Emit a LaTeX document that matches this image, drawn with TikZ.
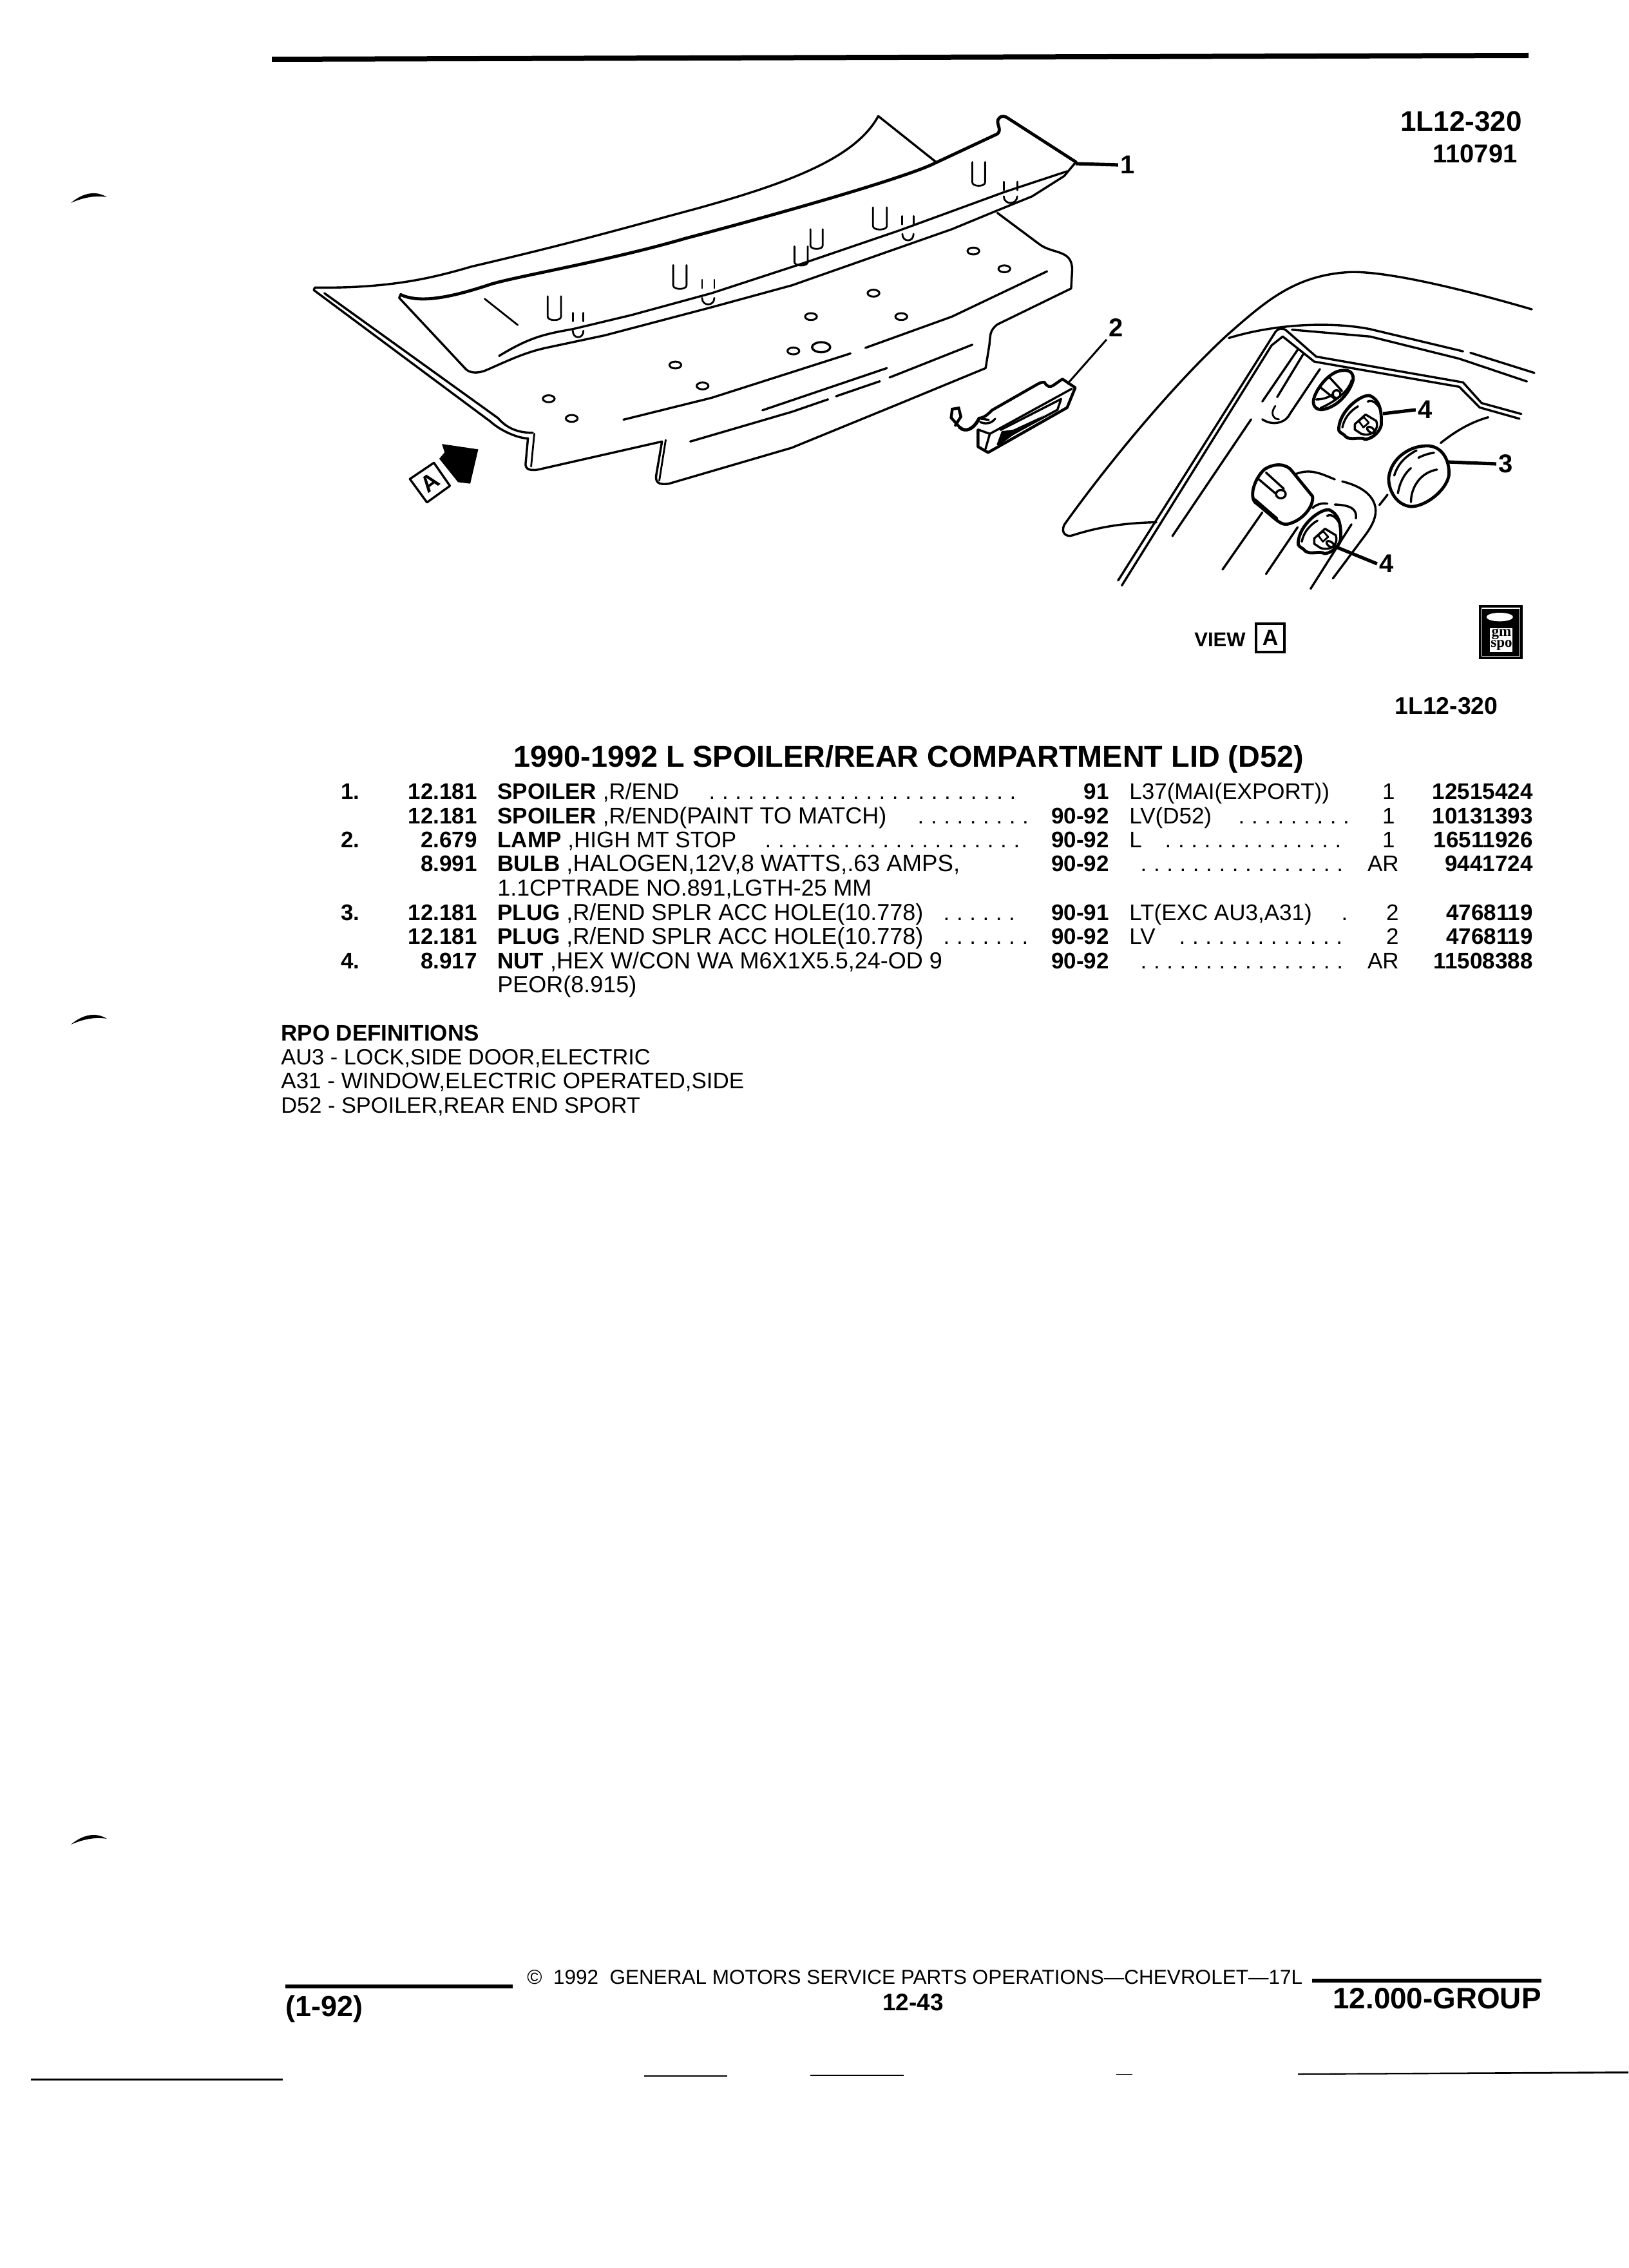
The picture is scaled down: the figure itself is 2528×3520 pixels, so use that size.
\documentclass[tikz,border=0pt]{standalone}
\usepackage{fontspec}
\setmainfont{Liberation Sans}
\newfontfamily\logofont{Liberation Serif}
\newcommand{\Dots}[1]{\foreach \i in {1,...,#1}{\hbox to 10.15pt{\hss.\hss}}}
\newcommand{\wide}{\fontsize{18}{20}\selectfont}
\tikzset{
  ln/.style={line width=1.7pt,line join=round,line cap=round},
  thk/.style={line width=2.4pt,line join=round,line cap=round},
  thn/.style={line width=1.4pt,line join=round,line cap=round},
  lead/.style={line width=2.6pt,line cap=butt},
  leadthin/.style={line width=1.5pt},
  tl/.style={anchor=base west,inner sep=0pt,font={\fontsize{17.5}{20}\selectfont}},
  tr/.style={anchor=base east,inner sep=0pt,font={\fontsize{17.5}{20}\selectfont\bfseries}},
  tq/.style={anchor=base east,inner sep=0pt,font={\fontsize{17.5}{20}\selectfont}},
  dt/.style={anchor=base west,inner sep=0pt,font={\fontsize{17.5}{20}\selectfont}},
  call/.style={inner sep=0pt,outer sep=2pt,font={\fontsize{20}{22}\selectfont\bfseries}},
  hole/.style={line width=1.5pt}
}
\begin{document}
\begin{tikzpicture}[x=0.5pt,y=-0.5pt]
\useasboundingbox (0,0) rectangle (2528,3520);
\fill[white] (0,0) rectangle (2528,3520);

% top rule
\fill (422,88) -- (2373,82) -- (2373,90) -- (422,96) -- cycle;

% spoiler drawing (coordinates of the enlarged view)
\begin{scope}[shift={(400,60)},xscale=0.8292,yscale=0.4847]
\draw[ln] (107,797) .. controls (250,800) and (330,765) .. (400,730) .. controls (600,650) and (700,600) .. (820,545) .. controls (1000,460) and (1120,380) .. (1162,248) -- (1270,395);
\draw[thk] (268,820) .. controls (300,845) and (350,835) .. (430,790) .. controls (470,765) and (650,715) .. (800,640) .. controls (1000,550) and (1200,450) .. (1260,405) -- (1385,305) .. controls (1395,290) and (1380,270) .. (1388,255) .. controls (1392,245) and (1400,248) .. (1405,255) -- (1532,395);
\draw[ln] (1532,395) -- (1510,440) -- (1450,505) -- (1385,550) -- (1300,610) -- (1100,730) -- (1000,790) -- (850,860) -- (650,950) -- (540,990) .. controls (500,1005) and (470,1030) .. (430,1060) .. controls (410,1075) and (395,1070) .. (388,1055) -- (265,830) -- (268,818);
\draw[ln] (452,1016) .. controls (510,955) and (540,945) .. (590,930) -- (700,885) -- (850,815) -- (1020,720) -- (1200,615) -- (1400,490) -- (1515,425);
\draw[ln] (1385,558) -- (1465,660) .. controls (1490,690) and (1525,675) .. (1525,740) -- (1523,800) -- (1385,915) .. controls (1370,935) and (1372,950) .. (1370,980) -- (1363,1055) -- (1200,1170) -- (1000,1310) -- (770,1425) .. controls (750,1430) and (745,1420) .. (746,1400) -- (757,1290) -- (525,1380) .. controls (505,1385) and (500,1375) .. (502,1355) -- (506,1280) .. controls (490,1280) and (458,1260) .. (435,1225) -- (105,805) -- (107,797);
\draw[ln] (125,815) -- (450,1215) .. controls (470,1255) and (495,1262) .. (515,1262);
\draw[thn] (518,1265) -- (512,1370);
\draw[thn] (764,1285) -- (752,1415);
\draw[thn] (425,833) -- (487,917);
% slots
\foreach \a/\b/\c/\d in {543/825/568/890,778/725/803/790,1005/665/1030/715,1035/610/1058/662,1152/540/1178/600,1338/395/1362/460}{
  \draw[thn] (\a,\b) -- (\a,\d) .. controls (\a,\d+15) and (\c,\d+15) .. (\c,\d) -- (\c,\b);
}
% small ticks and hooks
\foreach \a/\b/\c/\d in {590/610/878/935,832/855/772/830,1207/1228/568/625,1397/1422/458/505}{
  \draw[thn] (\a,\c) -- (\a,\c+27) (\b,\c) -- (\b,\c+27);
  \draw[thn] (\a,\d) .. controls (\a,\d+28) and (\b,\d+28) .. (\b,\d);
}
% holes
\foreach \a/\b in {1340/680,1398/737,1153/815,1036/890,1205/890,1003/1000,782/1045,833/1112,545/1153,588/1216}{
  \draw[hole] (\a,\b) ellipse (11 and 11);
}
\draw[ln] (1055,988) ellipse (17 and 16);
% body lines
\draw[ln] (685,1220) -- (850,1150) -- (1110,1008);
\draw[ln] (1138,990) -- (1300,890) -- (1478,745);
\draw[ln] (810,1290) -- (1000,1195) -- (1068,1155);
\draw[ln] (945,1190) -- (1178,1055);
\draw[ln] (1083,1145) -- (1165,1097);
\draw[ln] (1183,1085) -- (1338,980);
% view arrow and tag
\fill (345,1298) -- (413,1315) -- (398,1425) -- (375,1420) -- (340,1345) -- (350,1325) -- cycle;
\draw[ln] (330,1358) -- (360,1432) -- (317,1485) -- (285,1410) -- cycle;
\end{scope}
\node[inner sep=0pt,rotate=37,font={\fontsize{18}{18}\selectfont\bfseries}] (tagA) at (667,749) {A};

% lamp
\begin{scope}[shift={(1440,560)},scale=0.3333]
\draw[line width=2.2pt,line join=round] (235,320) -- (235,400) -- (282,427) -- (650,218) -- (688,125) -- (628,85) -- (585,115) .. controls (570,125) and (555,120) .. (545,100) .. controls (530,98) and (520,105) .. (510,110) -- (300,230) .. controls (285,245) and (270,262) .. (240,268);
\draw[ln] (235,320) -- (290,340) -- (270,410);
\draw[ln] (290,340) -- (672,130);
\draw[ln] (340,322) -- (622,178) -- (605,228) -- (380,350);
\fill (322,390) -- (345,328) -- (400,320) -- (540,255) -- (400,345) -- (330,396) -- cycle;
\draw[line width=2.6pt,line cap=round] (240,268) .. controls (215,320) and (175,335) .. (150,310);
\draw[line width=2.2pt,line cap=round] (150,310) -- (110,265) -- (115,225) -- (145,220) -- (155,260) -- (130,300);
\draw[ln] (315,270) .. controls (295,295) and (265,295) .. (245,285);
\draw[ln] (250,270) -- (285,275);
\end{scope}

% view A (coordinates of the enlarged view)
\begin{scope}[shift={(1550,380)},xscale=0.577,yscale=0.459]
\draw[ln] (1435,218) .. controls (1250,150) and (1050,90) .. (950,92) .. controls (800,100) and (720,190) .. (620,300) .. controls (480,460) and (300,730) .. (178,945) .. controls (165,975) and (185,990) .. (200,982) .. controls (280,950) and (350,940) .. (425,938);
\draw[ln] (620,315) .. controls (750,265) and (900,260) .. (1000,285) -- (1250,360);
\draw[ln] (1270,365) -- (1442,433);
\draw[ln] (322,1135) -- (745,295) .. controls (755,280) and (765,280) .. (775,290) -- (855,378) -- (1250,465) -- (1300,535) -- (1407,572);
\draw[ln] (332,1152) -- (735,340) -- (765,310) -- (850,395) -- (1240,480) -- (1295,550) -- (1402,588);
\draw[ln] (790,287) -- (1000,310) -- (1240,385) -- (1422,462);
\draw[ln] (468,985) -- (680,590);
\draw[ln] (710,530) -- (805,355);
\draw[ln] (750,515) -- (820,370);
\draw[ln] (710,590) .. controls (740,615) and (775,600) .. (785,570) -- (865,420);
\draw[thn] (745,545) .. controls (730,570) and (740,590) .. (755,590);
\draw[ln] (800,775) .. controls (840,755) and (870,775) .. (905,793);
\draw[ln] (925,800) .. controls (990,820) and (1015,860) .. (1015,900) .. controls (1015,930) and (1000,960) .. (985,985) -- (900,1128);
\draw[ln] (950,945) -- (840,1163);
\draw[ln] (710,905) -- (603,1098);
\draw[ln] (805,955) -- (720,1113);
\draw[ln] (845,890) .. controls (855,878) and (870,872) .. (885,875);
\draw[ln] (905,878) .. controls (950,880) and (965,895) .. (962,925);
\draw[ln] (1025,880) -- (1047,845);
\draw[ln] (1190,670) .. controls (1230,630) and (1270,600) .. (1318,583);
% bump
\draw[thk,fill=white] (715,760) .. controls (740,738) and (775,738) .. (790,765) -- (845,850) .. controls (850,880) and (820,935) .. (775,945) .. controls (755,945) and (745,925) .. (690,870) .. controls (675,845) and (690,790) .. (715,760) -- cycle;
\draw[ln] (698,790) -- (745,840);
\draw[ln] (720,770) -- (768,825);
\draw[ln] (760,843) ellipse (13 and 14);
\draw[ln] (690,860) -- (750,925);
% plug
\draw[line width=2.4pt] (1050,790) .. controls (1055,720) and (1110,675) .. (1160,680) .. controls (1195,685) and (1215,730) .. (1212,780) .. controls (1205,830) and (1150,885) .. (1110,885) .. controls (1070,880) and (1050,830) .. (1050,790) -- cycle;
\draw[ln] (1065,780) .. controls (1075,740) and (1095,715) .. (1125,695);
\draw[ln] (1075,840) .. controls (1080,800) and (1095,770) .. (1110,755);
\draw[ln] (1110,870) .. controls (1110,820) and (1135,770) .. (1180,760);
\draw[ln] (1130,720) .. controls (1145,710) and (1160,705) .. (1172,703);
\end{scope}

% oval opening and nuts
\begin{scope}[shift={(1980,570)},scale=0.3333]
\draw[thk] (178,150) .. controls (190,100) and (250,20) .. (310,15) .. controls (350,10) and (365,30) .. (362,60) .. controls (345,120) and (290,185) .. (220,197) .. controls (190,200) and (172,180) .. (178,150) -- cycle;
\draw[ln] (205,90) -- (280,150);
\draw[ln] (250,45) -- (310,110);
\draw[ln] (190,150) .. controls (220,150) and (250,140) .. (270,125);
\draw[ln] (285,125) circle (18);
\draw[ln] (210,190) .. controls (300,150) and (345,100) .. (355,60);
\foreach \dx/\dy in {0/0,-189/532}{
  \begin{scope}[shift={(\dx,\dy)}]
  \draw[line width=2.4pt,fill=white] (295,285) .. controls (300,200) and (400,125) .. (440,132) .. controls (480,150) and (497,190) .. (493,270) .. controls (480,320) and (420,345) .. (410,332) .. controls (380,325) and (340,345) .. (320,315) .. controls (305,305) and (293,300) .. (295,285) -- cycle;
  \draw[ln] (312,280) .. controls (320,240) and (345,205) .. (385,182);
  \draw[ln] (430,160) .. controls (450,150) and (470,165) .. (485,190);
  \draw[ln] (370,265) -- (420,220) -- (470,250) .. controls (485,290) and (450,325) .. (400,310) -- (370,290) -- cycle;
  \draw[thn] (388,250) -- (412,232) -- (435,258) -- (410,280) -- cycle;
  \draw[ln,rotate around={-35:(445,292)}] (445,292) ellipse (20 and 11);
  \end{scope}
}
\end{scope}

% leaders and numbers
\node[call] (lab1) at (1751,256) {1};
\node[call] (lab2) at (1733,509) {2};
\node[call] (lab3) at (2338,720) {3};
\node[call] (lab4a) at (2213,636) {4};
\node[call] (lab4b) at (2153,875) {4};
\coordinate (c1) at (1670,254);
\coordinate (c2) at (1657,596);
\coordinate (c3) at (2248,717);
\coordinate (c4a) at (2147,642);
\coordinate (c4b) at (2072,848);
\draw[lead] (c1) -- (lab1.west);
\draw[leadthin] (c2) -- (lab2.south west);
\draw[lead] (c3) -- (lab3.west);
\draw[lead] (c4a) -- (lab4a.west);
\draw[lead] (c4b) -- (lab4b.west);

% drawing labels
\node[anchor=base west,inner sep=0pt,font={\fontsize{22}{24}\selectfont\bfseries}] (code) at (2174,204) {1L12-320};
\node[anchor=base west,inner sep=0pt,font={\fontsize{20}{22}\selectfont\bfseries}] (date) at (2224,253) {110791};
\node[anchor=base west,inner sep=0pt,font={\fontsize{15.5}{17}\selectfont\bfseries}] (view) at (1854,1003) {VIEW};
\node[draw,line width=1.8pt,minimum width=22pt,minimum height=22pt,inner sep=0pt,font={\fontsize{17}{18}\selectfont\bfseries}] (viewA) at (1972,990) {A};
\begin{scope}[shift={(2140,920)},scale=0.3333]
\fill (468,58) rectangle (672,310);
\draw[white,line width=0.7pt] (482,72) rectangle (658,296);
\fill[white] (565,113) ellipse (62 and 20);
\fill[white] (520,165) rectangle (625,275);
\end{scope}
\node[align=center,inner sep=0pt,font={\logofont\fontsize{11.5}{8.5}\selectfont\bfseries}] (logo) at (2331,993) {gm\\spo};
\node[anchor=base west,inner sep=0pt,font={\fontsize{18.7}{20}\selectfont\bfseries}] (code2) at (2165,1108) {1L12-320};

% title
\node[anchor=base west,inner sep=0pt,font={\fontsize{23.4}{26}\selectfont\bfseries}] (title) at (797,1190) {1990-1992 L SPOILER/REAR COMPARTMENT LID (D52)};

% table
\node[tl,font={\fontsize{17.5}{20}\selectfont\bfseries}] (n1) at (529,1240) {1.};
\node[tl,font={\fontsize{17.5}{20}\selectfont\bfseries}] (n2) at (529,1315) {2.};
\node[tl,font={\fontsize{17.5}{20}\selectfont\bfseries}] (n3) at (529,1428) {3.};
\node[tl,font={\fontsize{17.5}{20}\selectfont\bfseries}] (n4) at (529,1503) {4.};

\node[tr] (f1) at (741,1240) {12.181};
\node[tr] (f2) at (741,1278) {12.181};
\node[tr] (f3) at (741,1315) {2.679};
\node[tr] (f4) at (741,1352) {8.991};
\node[tr] (f6) at (741,1428) {12.181};
\node[tr] (f7) at (741,1465) {12.181};
\node[tr] (f8) at (741,1503) {8.917};

\node[tl] (d1) at (772,1240) {\textbf{SPOILER} ,R/END};
\node[tl] (d2) at (772,1278) {\textbf{SPOILER} ,R/END\wide(PAINT TO MATCH)};
\node[tl] (d3) at (772,1315) {\textbf{LAMP} ,HIGH MT STOP};
\node[tl] (d4) at (772,1352) {\textbf{BULB} \fontsize{18.3}{20}\selectfont,HALOGEN,12V,8 WATTS,.63 AMPS,};
\node[tl] (d5) at (772,1390) {\fontsize{17.9}{20}\selectfont 1.1CPTRADE NO.891,LGTH-25 MM};
\node[tl] (d6) at (772,1428) {\textbf{PLUG} \wide,R/END SPLR ACC HOLE(10.778)};
\node[tl] (d7) at (772,1465) {\textbf{PLUG} \wide,R/END SPLR ACC HOLE(10.778)};
\node[tl] (d8) at (772,1503) {\textbf{NUT} \wide,HEX W/CON WA M6X1X5.5,24-OD 9};
\node[tl] (d9) at (772,1540) {\wide PEOR(8.915)};

\node[dt] (u1) at (1095,1240) {\Dots{24}};
\node[dt] (u2) at (1419,1278) {\Dots{9}};
\node[dt] (u3) at (1182,1315) {\Dots{20}};
\node[dt] (u6) at (1459,1428) {\Dots{6}};
\node[dt] (u7) at (1459,1465) {\Dots{7}};

\node[tr] (y1) at (1722,1240) {91};
\node[tr] (y2) at (1722,1278) {90-92};
\node[tr] (y3) at (1722,1315) {90-92};
\node[tr] (y4) at (1722,1352) {90-92};
\node[tr] (y6) at (1722,1428) {90-91};
\node[tr] (y7) at (1722,1465) {90-92};
\node[tr] (y8) at (1722,1503) {90-92};

\node[tl] (o1) at (1753,1240) {L37(MAI(EXPORT))};
\node[tl] (o2) at (1753,1278) {LV(D52)};
\node[tl] (o3) at (1753,1315) {L};
\node[tl] (o6) at (1753,1428) {LT(EXC AU3,A31)};
\node[tl] (o7) at (1753,1465) {LV};

\node[dt] (v2) at (1917,1278) {\Dots{9}};
\node[dt] (v3) at (1803,1315) {\Dots{14}};
\node[dt] (v4) at (1765,1352) {\Dots{16}};
\node[dt] (v6) at (2077,1428) {\Dots{1}};
\node[dt] (v7) at (1825,1465) {\Dots{13}};
\node[dt] (v8) at (1765,1503) {\Dots{16}};

\node[tq] (q1) at (2166,1240) {1};
\node[tq] (q2) at (2166,1278) {1};
\node[tq] (q3) at (2166,1315) {1};
\node[tq] (q4) at (2172,1352) {AR};
\node[tq] (q6) at (2172,1428) {2};
\node[tq] (q7) at (2172,1465) {2};
\node[tq] (q8) at (2172,1503) {AR};

\node[tr] (p1) at (2380,1240) {12515424};
\node[tr] (p2) at (2380,1278) {10131393};
\node[tr] (p3) at (2380,1315) {16511926};
\node[tr] (p4) at (2380,1352) {9441724};
\node[tr] (p6) at (2380,1428) {4768119};
\node[tr] (p7) at (2380,1465) {4768119};
\node[tr] (p8) at (2380,1503) {11508388};

% RPO definitions
\node[tl,font={\fontsize{17.5}{20}\selectfont\bfseries}] (rpo) at (436,1615) {RPO DEFINITIONS};
\node[tl,font={\fontsize{17.2}{20}\selectfont}] (rpo1) at (436,1652) {AU3 - LOCK,SIDE DOOR,ELECTRIC};
\node[tl] (rpo2) at (436,1689) {A31 - WINDOW,ELECTRIC OPERATED,SIDE};
\node[tl,font={\fontsize{17.2}{20}\selectfont}] (rpo3) at (436,1727) {D52 - SPOILER,REAR END SPORT};

% footer
\fill (443,3080) rectangle (796,3086);
\fill (2037,3071) rectangle (2393,3077);
\node[anchor=base west,inner sep=0pt,font={\fontsize{15.75}{17}\selectfont}] (foot) at (818,3079) {©\ \ 1992\ \ GENERAL MOTORS SERVICE PARTS OPERATIONS—CHEVROLET—17L};
\node[anchor=base west,inner sep=0pt,font={\fontsize{22.5}{25}\selectfont\bfseries}] (rev) at (443,3129) {(1-92)};
\node[anchor=base west,inner sep=0pt,font={\fontsize{18.5}{20}\selectfont\bfseries}] (page) at (1370,3120) {12-43};
\node[anchor=base east,inner sep=0pt,font={\fontsize{22.9}{25}\selectfont\bfseries}] (group) at (2393,3117) {12.000-GROUP};

% scan marks
\foreach \s in {0,1275,2548}{
  \fill[yshift=-\s*0.5pt] (110,315) .. controls (130,298) and (150,296) .. (166,306) .. controls (150,303) and (130,306) .. (110,315) -- cycle;
}
\fill (48,3226) rectangle (439,3229);
\fill (1000,3221) rectangle (1129,3223);
\fill (1258,3220) rectangle (1403,3222);
\fill (1733,3219) rectangle (1758,3220);
\fill (2015,3218) -- (2528,3215) -- (2528,3218) -- (2015,3220) -- cycle;
\end{tikzpicture}
\end{document}
